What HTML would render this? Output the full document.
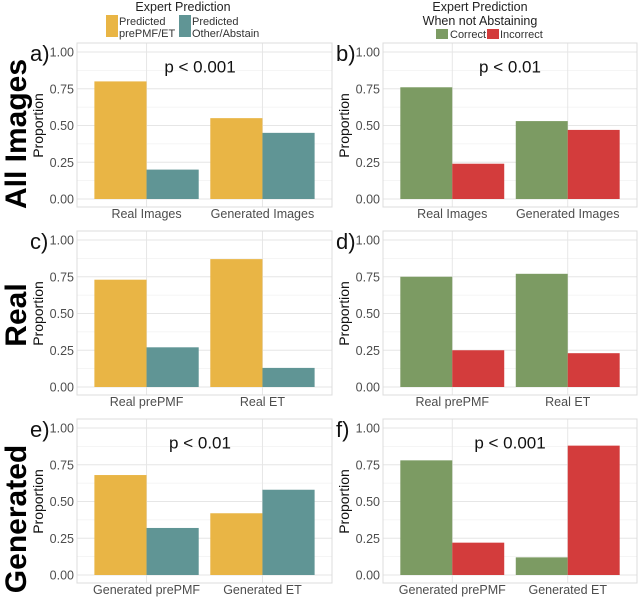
<!DOCTYPE html>
<html><head><meta charset="utf-8"><style>
html,body{margin:0;padding:0;background:#fff;width:640px;height:600px;overflow:hidden}
svg{display:block;font-family:"Liberation Sans",Arial,sans-serif}
</style></head><body>
<svg id="chart" width="640" height="600" viewBox="0 0 640 600">
  <g>
    <text x="183" y="11" font-size="12.5" text-anchor="middle" fill="#222">Expert Prediction</text>
    <rect x="106" y="15" width="12" height="22" fill="#E9B545"/>
    <text x="119" y="25" font-size="11" fill="#333">Predicted</text>
    <text x="119" y="37" font-size="11" fill="#333">prePMF/ET</text>
    <rect x="179" y="15" width="12" height="22" fill="#609595"/>
    <text x="192" y="25" font-size="11" fill="#333">Predicted</text>
    <text x="192" y="37" font-size="11" fill="#333">Other/Abstain</text>
  </g>
  <g>
    <text x="480" y="11" font-size="12.5" text-anchor="middle" fill="#222">Expert Prediction</text>
    <text x="480" y="25" font-size="12.5" text-anchor="middle" fill="#222">When not Abstaining</text>
    <rect x="436" y="29" width="12" height="10" fill="#7C9B63"/>
    <text x="450" y="38" font-size="11" fill="#333">Correct</text>
    <rect x="487" y="29" width="12" height="10" fill="#D33C3C"/>
    <text x="500" y="38" font-size="11" fill="#333">Incorrect</text>
  </g>
  <text transform="translate(26,134) rotate(-90)" font-size="30" font-weight="bold" text-anchor="middle" fill="#000">All Images</text>
  <text transform="translate(26,315) rotate(-90)" font-size="30" font-weight="bold" text-anchor="middle" fill="#000">Real</text>
  <text transform="translate(26,519) rotate(-90)" font-size="30" font-weight="bold" text-anchor="middle" fill="#000">Generated</text>
  <g id="panels"></g>
</svg>
<script>
// Panel data (rows: All Images, Real, Generated; cols: left=prediction, right=correctness)
const panelLetters = ["a)","b)","c)","d)","e)","f)"];
const categoriesA = ["Real Images","Generated Images"];
const categoriesB = ["Real Images","Generated Images"];
const categoriesC = ["Real prePMF","Real ET"];
const categoriesD = ["Real prePMF","Real ET"];
const categoriesE = ["Generated prePMF","Generated ET"];
const categoriesF = ["Generated prePMF","Generated ET"];
const seriesA1 = [0.80,0.55], seriesA2 = [0.20,0.45];
const seriesB1 = [0.76,0.53], seriesB2 = [0.24,0.47];
const seriesC1 = [0.73,0.87], seriesC2 = [0.27,0.13];
const seriesD1 = [0.75,0.77], seriesD2 = [0.25,0.23];
const seriesE1 = [0.68,0.42], seriesE2 = [0.32,0.58];
const seriesF1 = [0.78,0.12], seriesF2 = [0.22,0.88];
const pLabels = ["p < 0.001","p < 0.01","","","p < 0.01","p < 0.001"];
const yTicks = [0,0.25,0.5,0.75,1];
const yTickLabels = ["0.00","0.25","0.50","0.75","1.00"];

const NS="http://www.w3.org/2000/svg";
const root=document.getElementById('panels');
function mk(tag,attrs,parent){const e=document.createElementNS(NS,tag);for(const k in attrs)e.setAttribute(k,attrs[k]);(parent||root).appendChild(e);return e;}

const panels=[
 [categoriesA,seriesA1,seriesA2,0],[categoriesB,seriesB1,seriesB2,1],
 [categoriesC,seriesC1,seriesC2,0],[categoriesD,seriesD1,seriesD2,1],
 [categoriesE,seriesE1,seriesE2,0],[categoriesF,seriesF1,seriesF2,1]];
const colorsL=["#E9B545","#609595"], colorsR=["#7C9B63","#D33C3C"];

panels.forEach((p,i)=>{
  const [cats,s1,s2,col]=p; const row=Math.floor(i/2);
  const x0 = col? 383:77, x1 = col? 637:332;
  const y0 = 199 + row*188;
  const ppu = 147;
  const yS = v => y0 - v*ppu;
  const step=(x1-x0)/(cats.length+0.2);
  const xC = k => x0 + step*(0.6+k);
  const g=mk('g',{});
  
  
  const top=yS(1)-9, bot=y0+8;
  for(let k=0;k<yTicks.length-1;k++){
    const v=(yTicks[k]+yTicks[k+1])/2;
    mk('line',{x1:x0,x2:x1,y1:yS(v),y2:yS(v),stroke:'#f2f2f2','stroke-width':0.8},g);
  }
  yTicks.forEach((v,k)=>{
    const l=mk('line',{x1:x0,x2:x1,y1:yS(v),y2:yS(v),stroke:'#e6e6e6','stroke-width':1},g);
    
    
    const t=mk('text',{x:x0-3,y:yS(v)+4.5,'font-size':12.5,'text-anchor':'end',fill:'#4d4d4d'},g);
    t.textContent=yTickLabels[k];
    
    
  });
  cats.forEach((c,k)=>{
    mk('line',{x1:xC(k),x2:xC(k),y1:top,y2:bot,stroke:'#e6e6e6','stroke-width':1},g);
  });
  mk('rect',{x:x0,y:top,width:x1-x0,height:bot-top,fill:'none',stroke:'#dcdcdc','stroke-width':1},g);
  const bw=step*0.45;
  const cols=col?colorsR:colorsL;
  cats.forEach((c,k)=>{
    [s1,s2].forEach((s,j)=>{
      const r=mk('rect',{x:xC(k)-bw+j*bw,y:yS(s[k]),width:bw,height:y0-yS(s[k]),fill:cols[j]},g);
      
      
    });
    const t=mk('text',{x:xC(k),y:y0+19,'font-size':12.5,'text-anchor':'middle',fill:'#4d4d4d'},g);
    t.textContent=c;
    
    
  });
  const yl=mk('text',{transform:`translate(${x0-34},${yS(0.5)}) rotate(-90)`,'font-size':14,'text-anchor':'middle',fill:'#111'},g);
  yl.textContent='Proportion';
  
  
  const pl=mk('text',{x:x0-47,y:yS(1)+9,'font-size':22,fill:'#111'},g);
  pl.textContent=panelLetters[i];
  
  
  if(pLabels[i]){
    const pt=mk('text',{x:col?510:200,y:yS(0.86),'font-size':17,'text-anchor':'middle',fill:'#111'},g);
    pt.textContent=pLabels[i];
    
    
  }
});
</script>
</body></html>
